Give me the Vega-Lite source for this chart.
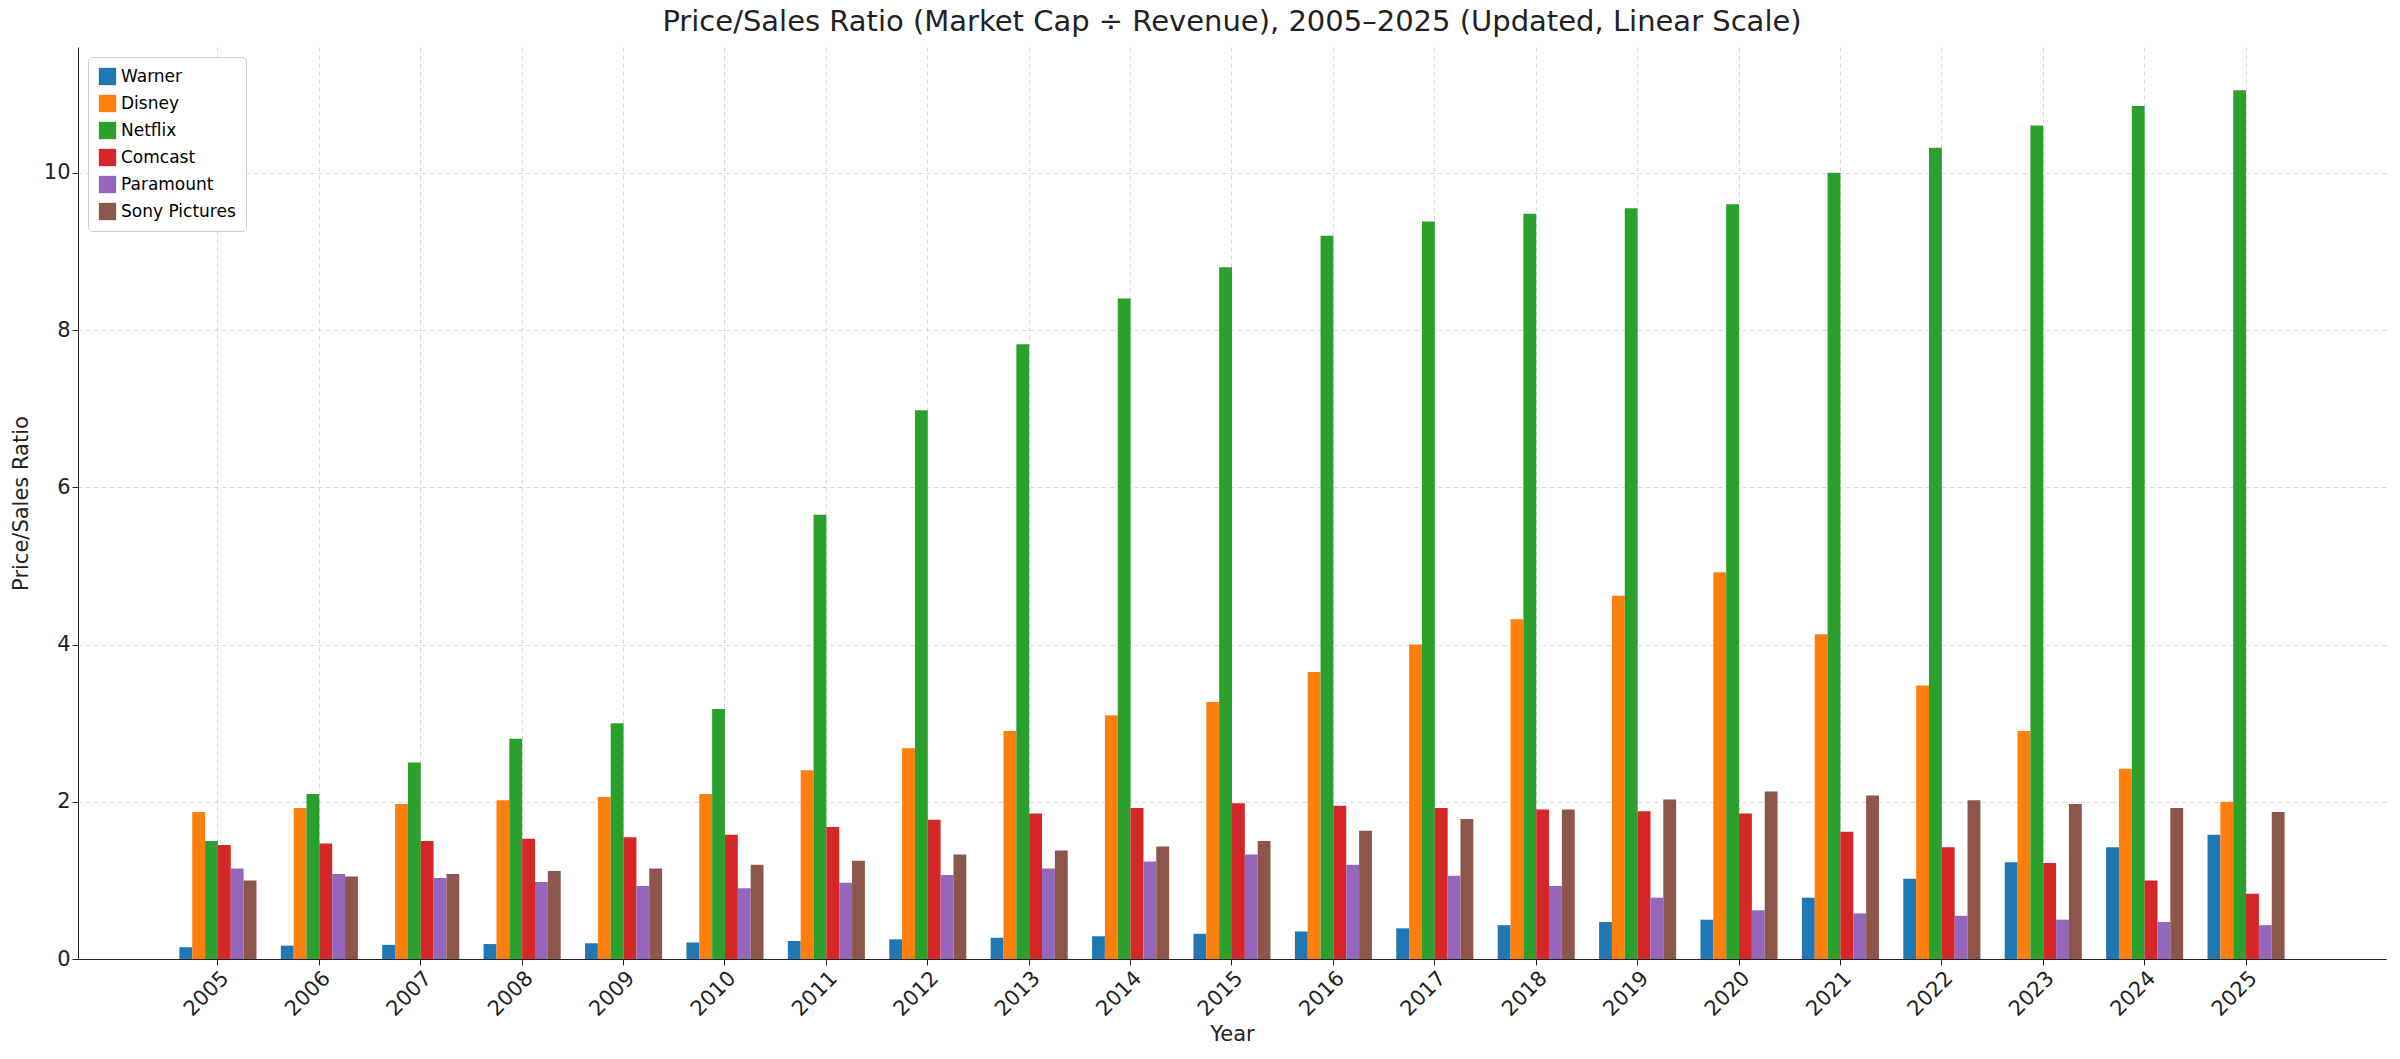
{
  "$schema": "https://vega.github.io/schema/vega-lite/v6.json",
  "width": 2400,
  "height": 1059,
  "autosize": {"type": "fit", "contains": "padding"},
  "padding": {"left": 10, "right": 14, "top": 8, "bottom": 14},
  "background": "white",
  "title": {"text": "Price/Sales Ratio (Market Cap ÷ Revenue), 2005–2025 (Updated, Linear Scale)", "fontSize": 29, "fontWeight": "normal", "font": "DejaVu Sans", "color": "#222", "offset": 10},
  "config": {
    "font": "DejaVu Sans",
    "view": {"stroke": null},
    "axis": {"labelFontSize": 21, "titleFontSize": 21, "titleFontWeight": "normal", "labelColor": "#222", "titleColor": "#222", "gridDash": [4, 4], "gridColor": "#d5d5d5", "domainColor": "#222", "tickColor": "#222"},
    "legend": {"labelFontSize": 17, "symbolType": "square", "symbolSize": 300}
  },
  "datasets": {
    "ps": [
      {"year": "2005", "c": "Warner", "v": 0.15}, {"year": "2005", "c": "Disney", "v": 1.87}, {"year": "2005", "c": "Netflix", "v": 1.5}, {"year": "2005", "c": "Comcast", "v": 1.45}, {"year": "2005", "c": "Paramount", "v": 1.15}, {"year": "2005", "c": "Sony Pictures", "v": 1.0},
      {"year": "2006", "c": "Warner", "v": 0.17}, {"year": "2006", "c": "Disney", "v": 1.92}, {"year": "2006", "c": "Netflix", "v": 2.1}, {"year": "2006", "c": "Comcast", "v": 1.47}, {"year": "2006", "c": "Paramount", "v": 1.08}, {"year": "2006", "c": "Sony Pictures", "v": 1.05},
      {"year": "2007", "c": "Warner", "v": 0.18}, {"year": "2007", "c": "Disney", "v": 1.97}, {"year": "2007", "c": "Netflix", "v": 2.5}, {"year": "2007", "c": "Comcast", "v": 1.5}, {"year": "2007", "c": "Paramount", "v": 1.03}, {"year": "2007", "c": "Sony Pictures", "v": 1.08},
      {"year": "2008", "c": "Warner", "v": 0.19}, {"year": "2008", "c": "Disney", "v": 2.02}, {"year": "2008", "c": "Netflix", "v": 2.8}, {"year": "2008", "c": "Comcast", "v": 1.53}, {"year": "2008", "c": "Paramount", "v": 0.98}, {"year": "2008", "c": "Sony Pictures", "v": 1.12},
      {"year": "2009", "c": "Warner", "v": 0.2}, {"year": "2009", "c": "Disney", "v": 2.06}, {"year": "2009", "c": "Netflix", "v": 3.0}, {"year": "2009", "c": "Comcast", "v": 1.55}, {"year": "2009", "c": "Paramount", "v": 0.93}, {"year": "2009", "c": "Sony Pictures", "v": 1.15},
      {"year": "2010", "c": "Warner", "v": 0.21}, {"year": "2010", "c": "Disney", "v": 2.1}, {"year": "2010", "c": "Netflix", "v": 3.18}, {"year": "2010", "c": "Comcast", "v": 1.58}, {"year": "2010", "c": "Paramount", "v": 0.9}, {"year": "2010", "c": "Sony Pictures", "v": 1.2},
      {"year": "2011", "c": "Warner", "v": 0.23}, {"year": "2011", "c": "Disney", "v": 2.4}, {"year": "2011", "c": "Netflix", "v": 5.65}, {"year": "2011", "c": "Comcast", "v": 1.68}, {"year": "2011", "c": "Paramount", "v": 0.97}, {"year": "2011", "c": "Sony Pictures", "v": 1.25},
      {"year": "2012", "c": "Warner", "v": 0.25}, {"year": "2012", "c": "Disney", "v": 2.68}, {"year": "2012", "c": "Netflix", "v": 6.98}, {"year": "2012", "c": "Comcast", "v": 1.77}, {"year": "2012", "c": "Paramount", "v": 1.07}, {"year": "2012", "c": "Sony Pictures", "v": 1.33},
      {"year": "2013", "c": "Warner", "v": 0.27}, {"year": "2013", "c": "Disney", "v": 2.9}, {"year": "2013", "c": "Netflix", "v": 7.82}, {"year": "2013", "c": "Comcast", "v": 1.85}, {"year": "2013", "c": "Paramount", "v": 1.15}, {"year": "2013", "c": "Sony Pictures", "v": 1.38},
      {"year": "2014", "c": "Warner", "v": 0.29}, {"year": "2014", "c": "Disney", "v": 3.1}, {"year": "2014", "c": "Netflix", "v": 8.4}, {"year": "2014", "c": "Comcast", "v": 1.92}, {"year": "2014", "c": "Paramount", "v": 1.24}, {"year": "2014", "c": "Sony Pictures", "v": 1.43},
      {"year": "2015", "c": "Warner", "v": 0.32}, {"year": "2015", "c": "Disney", "v": 3.27}, {"year": "2015", "c": "Netflix", "v": 8.8}, {"year": "2015", "c": "Comcast", "v": 1.98}, {"year": "2015", "c": "Paramount", "v": 1.33}, {"year": "2015", "c": "Sony Pictures", "v": 1.5},
      {"year": "2016", "c": "Warner", "v": 0.35}, {"year": "2016", "c": "Disney", "v": 3.65}, {"year": "2016", "c": "Netflix", "v": 9.2}, {"year": "2016", "c": "Comcast", "v": 1.95}, {"year": "2016", "c": "Paramount", "v": 1.2}, {"year": "2016", "c": "Sony Pictures", "v": 1.63},
      {"year": "2017", "c": "Warner", "v": 0.39}, {"year": "2017", "c": "Disney", "v": 4.0}, {"year": "2017", "c": "Netflix", "v": 9.38}, {"year": "2017", "c": "Comcast", "v": 1.92}, {"year": "2017", "c": "Paramount", "v": 1.06}, {"year": "2017", "c": "Sony Pictures", "v": 1.78},
      {"year": "2018", "c": "Warner", "v": 0.43}, {"year": "2018", "c": "Disney", "v": 4.32}, {"year": "2018", "c": "Netflix", "v": 9.48}, {"year": "2018", "c": "Comcast", "v": 1.9}, {"year": "2018", "c": "Paramount", "v": 0.93}, {"year": "2018", "c": "Sony Pictures", "v": 1.9},
      {"year": "2019", "c": "Warner", "v": 0.47}, {"year": "2019", "c": "Disney", "v": 4.62}, {"year": "2019", "c": "Netflix", "v": 9.55}, {"year": "2019", "c": "Comcast", "v": 1.88}, {"year": "2019", "c": "Paramount", "v": 0.78}, {"year": "2019", "c": "Sony Pictures", "v": 2.03},
      {"year": "2020", "c": "Warner", "v": 0.5}, {"year": "2020", "c": "Disney", "v": 4.92}, {"year": "2020", "c": "Netflix", "v": 9.6}, {"year": "2020", "c": "Comcast", "v": 1.85}, {"year": "2020", "c": "Paramount", "v": 0.62}, {"year": "2020", "c": "Sony Pictures", "v": 2.13},
      {"year": "2021", "c": "Warner", "v": 0.78}, {"year": "2021", "c": "Disney", "v": 4.13}, {"year": "2021", "c": "Netflix", "v": 10.0}, {"year": "2021", "c": "Comcast", "v": 1.62}, {"year": "2021", "c": "Paramount", "v": 0.58}, {"year": "2021", "c": "Sony Pictures", "v": 2.08},
      {"year": "2022", "c": "Warner", "v": 1.02}, {"year": "2022", "c": "Disney", "v": 3.48}, {"year": "2022", "c": "Netflix", "v": 10.32}, {"year": "2022", "c": "Comcast", "v": 1.42}, {"year": "2022", "c": "Paramount", "v": 0.55}, {"year": "2022", "c": "Sony Pictures", "v": 2.02},
      {"year": "2023", "c": "Warner", "v": 1.23}, {"year": "2023", "c": "Disney", "v": 2.9}, {"year": "2023", "c": "Netflix", "v": 10.6}, {"year": "2023", "c": "Comcast", "v": 1.22}, {"year": "2023", "c": "Paramount", "v": 0.5}, {"year": "2023", "c": "Sony Pictures", "v": 1.97},
      {"year": "2024", "c": "Warner", "v": 1.42}, {"year": "2024", "c": "Disney", "v": 2.42}, {"year": "2024", "c": "Netflix", "v": 10.85}, {"year": "2024", "c": "Comcast", "v": 1.0}, {"year": "2024", "c": "Paramount", "v": 0.47}, {"year": "2024", "c": "Sony Pictures", "v": 1.92},
      {"year": "2025", "c": "Warner", "v": 1.58}, {"year": "2025", "c": "Disney", "v": 2.0}, {"year": "2025", "c": "Netflix", "v": 11.05}, {"year": "2025", "c": "Comcast", "v": 0.83}, {"year": "2025", "c": "Paramount", "v": 0.43}, {"year": "2025", "c": "Sony Pictures", "v": 1.87}
    ]
  },
  "data": {"name": "ps"},
  "mark": {"type": "bar"},
  "encoding": {
    "x": {
      "field": "year", "type": "nominal", "title": "Year",
      "scale": {"paddingInner": 0.24, "paddingOuter": 1.0},
      "axis": {"labelAngle": -45, "labelAlign": "right", "labelBaseline": "top", "grid": true, "bandPosition": 0.5, "tickSize": 6, "titlePadding": 4}
    },
    "y": {
      "field": "v", "type": "quantitative", "title": "Price/Sales Ratio",
      "scale": {"domain": [0, 11.6], "nice": false},
      "axis": {"values": [0, 2, 4, 6, 8, 10], "grid": true, "tickSize": 6, "titlePadding": 12}
    },
    "xOffset": {"field": "c", "sort": ["Warner", "Disney", "Netflix", "Comcast", "Paramount", "Sony Pictures"]},
    "color": {
      "field": "c", "type": "nominal",
      "scale": {"domain": ["Warner", "Disney", "Netflix", "Comcast", "Paramount", "Sony Pictures"], "range": ["#1f77b4", "#ff7f0e", "#2ca02c", "#d62728", "#9467bd", "#8c564b"]},
      "legend": {"title": null, "orient": "top-left", "offset": 10, "padding": 10, "strokeColor": "#ccc", "fillColor": "white", "cornerRadius": 4, "rowPadding": 8}
    }
  }
}
